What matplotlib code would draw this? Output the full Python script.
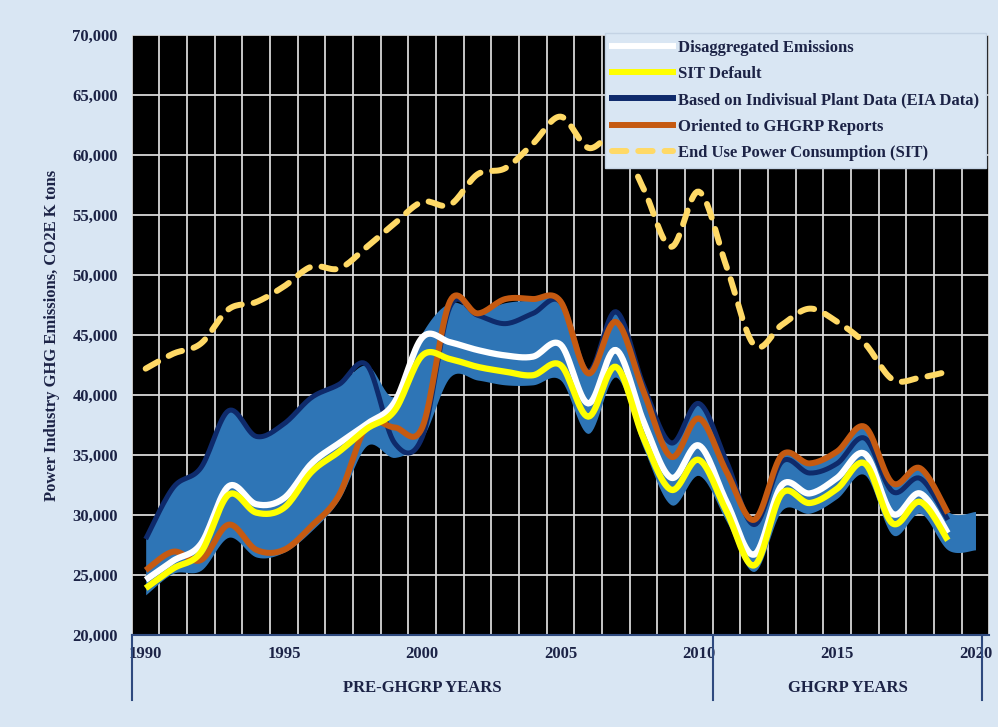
import numpy as np
import matplotlib.pyplot as plt
from matplotlib.lines import Line2D

# values (K tons CO2E)
years = np.arange(1990, 2020)
band_years = np.arange(1990, 2021)

disaggregated = [24600, 26200, 27600, 32400, 30900, 31400, 34300, 36000, 37600, 39400,
                 44800, 44400, 43750, 43300, 43200, 44200, 39300, 43750, 37800, 33100,
                 35800, 31100, 26700, 32500, 31800, 33100, 35100, 30100, 31800, 28500]
sit_default = [23900, 25550, 26900, 31700, 30200, 30600, 33600, 35300, 37200, 38700,
               43300, 43000, 42350, 41950, 41650, 42500, 38200, 42350, 36400, 32100,
               34600, 30300, 25800, 31800, 31000, 32200, 34300, 29300, 31100, 27900]
eia_plant = [28000, 32300, 33950, 38700, 36550, 37600, 39800, 40900, 42500, 36000,
             36500, 47350, 46650, 45950, 46800, 47750, 41950, 46950, 40800, 36000,
             39300, 34450, 29200, 34450, 33500, 34300, 36400, 31950, 33050, 29600]
ghgrp = [25400, 26950, 26250, 29200, 27100, 27100, 29100, 31700, 37450, 37300,
         37300, 47800, 46800, 48000, 48000, 47800, 41800, 46100, 40300, 34850,
         38050, 33600, 29600, 35000, 34300, 35300, 37350, 32650, 33900, 30150]
end_use = [42200, 43450, 44300, 47150, 47750, 49050, 50700, 50550, 52350, 54300,
           56100, 55850, 58400, 58900, 60950, 63200, 60600, 61500, 57200, 52350,
           56950, 50700, 44150, 45850, 47200, 46100, 44300, 41300, 41450, 41950]
band_low = [23350, 25150, 25400, 28150, 26500, 26900, 28700, 31300, 35800, 34800,
            36400, 41500, 41250, 40850, 40850, 41250, 36800, 41500, 35550, 30850,
            33300, 29450, 25300, 30400, 30150, 31400, 33350, 28350, 30150, 27100, 27100]
band_high = [28000, 32300, 33950, 38700, 36550, 37600, 39800, 40900, 42500, 39900,
             45200, 47700, 47000, 47700, 47900, 47800, 42000, 47100, 40900, 36100,
             39400, 34500, 29600, 35000, 34300, 35300, 37400, 32600, 33900, 30300, 30300]

labels = ['Disaggregated Emissions', 'SIT Default',
          'Based on Indivisual Plant Data (EIA Data)', 'Oriented to GHGRP Reports',
          'End Use Power Consumption (SIT)']
tick_years = [1990, 1995, 2000, 2005, 2010, 2015, 2020]


def smooth(x, y, n=16):
    # catmull-rom, like excel's smoothed lines
    x = np.asarray(x, float)
    y = np.asarray(y, float)
    px = np.r_[x[0], x, x[-1]]
    py = np.r_[y[0], y, y[-1]]
    t = np.linspace(0, 1, n, endpoint=False)
    xs, ys = [], []
    for i in range(len(x) - 1):
        for p, out in ((px, xs), (py, ys)):
            p0, p1, p2, p3 = p[i], p[i + 1], p[i + 2], p[i + 3]
            out.extend(0.5 * (2 * p1 + (p2 - p0) * t
                              + (2 * p0 - 5 * p1 + 4 * p2 - p3) * t ** 2
                              + (3 * p1 - p0 - 3 * p2 + p3) * t ** 3))
    xs.append(x[-1])
    ys.append(y[-1])
    return np.array(xs), np.array(ys)


font = 'Liberation Serif'
fs = 12
txt_col = '#1c2346'
navy = '#0e2a6b'
orange = '#c55a11'
yellow = '#ffff00'
gold = '#ffd966'
band_col = '#2e75b6'
bg = '#d9e6f3'

fig = plt.figure(figsize=(9.98, 7.27), dpi=100, facecolor=bg)
ax = fig.add_axes([0.1321, 0.1265, 0.8592, 0.8253])
ax.set_facecolor('black')

bx, blo = smooth(band_years, band_low)
_, bhi = smooth(band_years, band_high)
ax.fill_between(bx, blo, bhi, color=band_col, lw=0, zorder=2)

ax.plot(*smooth(years, eia_plant), color=navy, lw=3.6, zorder=3, solid_capstyle='butt')
ax.plot(*smooth(years, ghgrp), color=orange, lw=4.3, zorder=4, solid_capstyle='butt')
ax.plot(*smooth(years, disaggregated), color='white', lw=4.5, zorder=5, solid_capstyle='butt')
ax.plot(*smooth(years, sit_default), color=yellow, lw=4.5, zorder=6, solid_capstyle='butt')
ax.plot(*smooth(years, end_use), color=gold, lw=4.3, dashes=(2.4, 2.0),
        dash_capstyle='round', zorder=7)

ax.set_xlim(1989.5, 2020.5)
ax.set_ylim(20000, 70000)
ax.set_yticks(np.arange(20000, 70001, 5000))
ax.set_yticklabels([f'{v:,}' for v in range(20000, 70001, 5000)])
ax.set_xticks(tick_years)
ax.set_xticklabels([str(y) for y in tick_years])
ax.set_xticks(np.arange(1989.5, 2021), minor=True)
ax.grid(which='minor', axis='x', color='#d8d8d8', lw=1.3, zorder=1)
ax.grid(which='major', axis='y', color='#d8d8d8', lw=1.3, zorder=1)
ax.tick_params(which='both', length=0)
ax.tick_params(axis='y', pad=10)
ax.tick_params(axis='x', pad=8)
for lab in ax.get_xticklabels() + ax.get_yticklabels():
    lab.set_fontfamily(font)
    lab.set_fontweight('bold')
    lab.set_fontsize(fs)
    lab.set_color(txt_col)
for s in ('top', 'right', 'left'):
    ax.spines[s].set_visible(False)
ax.spines['bottom'].set_color('#2f4a7f')
ax.spines['bottom'].set_linewidth(1.5)

ax.set_ylabel('Power Industry GHG Emissions, CO2E K tons', family=font,
              weight='bold', fontsize=fs, color=txt_col, labelpad=9)

# second level category axis
tr = ax.get_xaxis_transform()
for xb in (1989.5, 2010.5, 2020.25):
    ax.plot([xb, xb], [0, -0.108], transform=tr, color='#2f4a7f', lw=1.5, clip_on=False)
ax.text(2000.0, -0.088, 'PRE-GHGRP YEARS', transform=tr, ha='center', va='center',
        family=font, weight='bold', fontsize=fs, color=txt_col)
ax.text(2015.4, -0.088, 'GHGRP YEARS', transform=tr, ha='center', va='center',
        family=font, weight='bold', fontsize=fs, color=txt_col)

handles = [Line2D([], [], color='white', lw=4.3),
           Line2D([], [], color=yellow, lw=4.3),
           Line2D([], [], color=navy, lw=4.3),
           Line2D([], [], color=orange, lw=4.3),
           Line2D([], [], color=gold, lw=4.3, dashes=(2.4, 2.0), dash_capstyle='round')]
leg = fig.legend(handles, labels, loc='upper right', bbox_to_anchor=(986 / 998, 1 - 33 / 727),
                 borderaxespad=0, frameon=True, fancybox=False, facecolor=bg,
                 edgecolor='#c4d3e4', framealpha=1, handlelength=3.7, handletextpad=0.3,
                 labelspacing=0.62, borderpad=0.4,
                 prop={'family': font, 'weight': 'bold', 'size': fs})
for t in leg.get_texts():
    t.set_color(txt_col)

fig.savefig('out.png', dpi=100, facecolor=bg)
